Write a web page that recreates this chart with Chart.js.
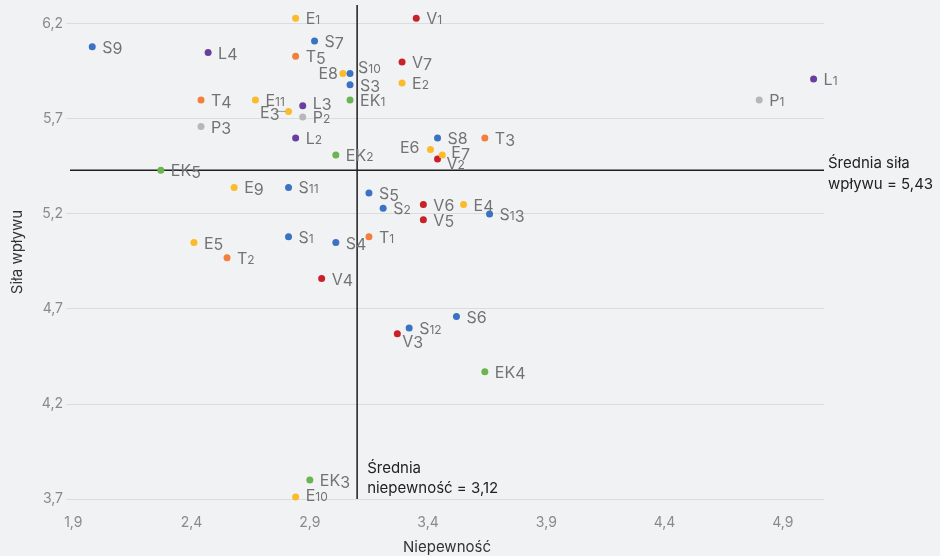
<!DOCTYPE html>
<html>
<head>
<meta charset="utf-8">
<script src="https://cdn.jsdelivr.net/npm/chart.js@4"></script>
<style>
  body { margin: 0; background: #f1f2f4; }
</style>
</head>
<body>
<canvas id="chart" width="940" height="556"></canvas>
<script>
// [name, niepewność, siła wpływu]
const sPoints = [
  ['S1', 2.81, 5.08], ['S2', 3.21, 5.23], ['S3', 3.07, 5.88], ['S4', 3.01, 5.05],
  ['S5', 3.15, 5.31], ['S6', 3.52, 4.66], ['S7', 2.92, 6.11], ['S8', 3.44, 5.60],
  ['S9', 1.98, 6.08], ['S10', 3.07, 5.94], ['S11', 2.81, 5.34], ['S12', 3.32, 4.60],
  ['S13', 3.66, 5.20]
];
const ePoints = [
  ['E1', 2.84, 6.23], ['E2', 3.29, 5.89], ['E3', 2.81, 5.74], ['E4', 3.55, 5.25],
  ['E5', 2.41, 5.05], ['E6', 3.41, 5.54], ['E7', 3.46, 5.51], ['E8', 3.04, 5.94],
  ['E9', 2.58, 5.34], ['E10', 2.84, 3.71], ['E11', 2.67, 5.80]
];
const tPoints = [
  ['T1', 3.15, 5.08], ['T2', 2.55, 4.97], ['T3', 3.64, 5.60], ['T4', 2.44, 5.80],
  ['T5', 2.84, 6.03]
];
const vPoints = [
  ['V1', 3.35, 6.23], ['V2', 3.44, 5.49], ['V3', 3.27, 4.57], ['V4', 2.95, 4.86],
  ['V5', 3.38, 5.17], ['V6', 3.38, 5.25], ['V7', 3.29, 6.00]
];
const lPoints = [
  ['L1', 5.03, 5.91], ['L2', 2.84, 5.60], ['L3', 2.87, 5.77], ['L4', 2.47, 6.05]
];
const pPoints = [
  ['P1', 4.80, 5.80], ['P2', 2.87, 5.71], ['P3', 2.44, 5.66]
];
const ekPoints = [
  ['EK1', 3.07, 5.80], ['EK2', 3.01, 5.51], ['EK3', 2.90, 3.80], ['EK4', 3.64, 4.37],
  ['EK5', 2.27, 5.43]
];

const xTicks = [1.9, 2.4, 2.9, 3.4, 3.9, 4.4, 4.9];
const yTicks = [3.7, 4.2, 4.7, 5.2, 5.7, 6.2];

const meanUncertainty = 3.1;
const meanImpact = 5.43;
const meanUncertaintyText = ['Średnia', 'niepewność = 3,12'];
const meanImpactText = ['Średnia siła', 'wpływu = 5,43'];

const groups = [
  { points: sPoints, color: '#3a72c4' },
  { points: ePoints, color: '#fbbb2a' },
  { points: tPoints, color: '#f47f3c' },
  { points: vPoints, color: '#c9202a' },
  { points: lPoints, color: '#6a3e9e' },
  { points: pPoints, color: '#b7b7b7' },
  { points: ekPoints, color: '#6ab550' }
];

// label placement exceptions: dx, dy from the dot, align
const labelPos = {
  E8: { dx: -5, dy: 0, align: 'right' },
  E3: { dx: -9, dy: 1, align: 'right', leader: true },
  E6: { dx: -11, dy: -2, align: 'right' },
  S10: { dx: 8, dy: -6 },
  E7: { dx: 9, dy: -3 },
  V2: { dx: 9, dy: 4 },
  V3: { dx: 5, dy: 7 },
  L3: { dx: 10, dy: -3 },
  E10: { dx: 10, dy: -2 }
};

const FONT = 'Inter, "Noto Sans", sans-serif';
const fmt = v => v.toFixed(1).replace('.', ',');

// letters at full size, 0/1/2 smaller like old-style figures
function drawLabel(ctx, text, x, y, align) {
  const parts = [];
  let w = 0;
  for (const ch of text) {
    const p = { ch, size: '012'.includes(ch) ? 12 : 16, drop: '34579'.includes(ch) ? 1.5 : 0 };
    ctx.font = p.size + 'px ' + FONT;
    p.w = ctx.measureText(ch).width;
    w += p.w;
    parts.push(p);
  }
  let cx = align === 'right' ? x - w : x;
  parts.forEach(p => {
    ctx.font = p.size + 'px ' + FONT;
    ctx.fillText(p.ch, cx, y + p.drop);
    cx += p.w;
  });
}

const meanLines = {
  id: 'meanLines',
  beforeDatasetsDraw(chart) {
    const { ctx, chartArea: a, scales: { x, y } } = chart;
    const px = x.getPixelForValue(meanUncertainty);
    const py = y.getPixelForValue(meanImpact);
    ctx.save();
    ctx.strokeStyle = '#1e1e1e';
    ctx.lineWidth = 1.5;
    ctx.beginPath();
    ctx.moveTo(a.left, py); ctx.lineTo(a.right, py);
    ctx.moveTo(px, a.top); ctx.lineTo(px, a.bottom);
    ctx.stroke();
    ctx.fillStyle = '#222';
    ctx.font = '15px ' + FONT;
    ctx.textBaseline = 'middle';
    ctx.fillText(meanImpactText[0], a.right + 4, py - 7);
    ctx.fillText(meanImpactText[1], a.right + 4, py + 14);
    ctx.fillText(meanUncertaintyText[0], px + 10, a.bottom - 31);
    ctx.fillText(meanUncertaintyText[1], px + 10, a.bottom - 11);
    ctx.restore();
  },
  afterDatasetsDraw(chart) {
    const { ctx } = chart;
    ctx.save();
    ctx.fillStyle = '#737373';
    ctx.textBaseline = 'alphabetic';
    chart.data.datasets.forEach((ds, i) => {
      chart.getDatasetMeta(i).data.forEach((el, j) => {
        const name = ds.data[j].name;
        const pos = labelPos[name] || { dx: 10, dy: 0 };
        if (pos.leader) {
          ctx.strokeStyle = '#9a9a9a';
          ctx.lineWidth = 1;
          ctx.beginPath();
          ctx.moveTo(el.x - 3, el.y);
          ctx.lineTo(el.x - 13, el.y);
          ctx.stroke();
        }
        drawLabel(ctx, name, el.x + pos.dx, el.y + pos.dy + 6, pos.align);
      });
    });
    ctx.restore();
  }
};

new Chart(document.getElementById('chart'), {
  type: 'scatter',
  data: {
    datasets: groups.map(g => ({
      data: g.points.map(p => ({ x: p[1], y: p[2], name: p[0] })),
      backgroundColor: g.color,
      pointRadius: 3.5,
      pointHoverRadius: 3.5,
      pointBorderWidth: 0,
      clip: false
    }))
  },
  options: {
    responsive: false,
    animation: false,
    events: [],
    layout: { padding: { top: 5, right: 116, left: 0, bottom: 0 } },
    plugins: { legend: { display: false }, tooltip: { enabled: false } },
    scales: {
      x: {
        min: 1.886,
        max: 5.074,
        grid: { display: false },
        border: { display: false },
        afterBuildTicks: s => { s.ticks = xTicks.map(v => ({ value: v })); },
        afterFit: s => { s.height = 57; s.paddingLeft = 0; s.paddingRight = 0; },
        ticks: {
          padding: 7, autoSkip: false, maxRotation: 0,
          color: '#8a8a8a', font: { family: FONT, size: 14 },
          callback: v => fmt(v)
        },
        title: {
          display: true, text: 'Niepewność', color: '#333',
          font: { family: FONT, size: 15 }, padding: { top: 8, bottom: 0 }
        }
      },
      y: {
        min: 3.7,
        max: 6.3,
        grid: { color: '#dcdcdc', lineWidth: 1, tickLength: 4 },
        border: { display: false },
        afterBuildTicks: s => { s.ticks = yTicks.map(v => ({ value: v })); },
        afterFit: s => { s.width = 70; s.paddingTop = 0; s.paddingBottom = 0; },
        ticks: {
          padding: 3, color: '#8a8a8a', font: { family: FONT, size: 14 },
          callback: v => fmt(v)
        },
        title: {
          display: true, text: 'Siła wpływu', color: '#333',
          font: { family: FONT, size: 15 }, padding: { top: 8, bottom: 4 }
        }
      }
    }
  },
  plugins: [meanLines]
});
</script>
</body>
</html>
